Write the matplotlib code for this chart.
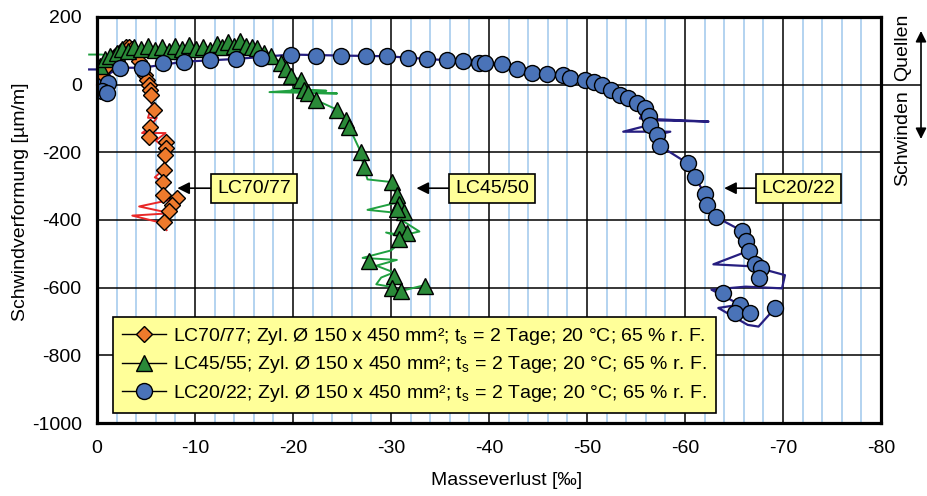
import matplotlib
matplotlib.use('Agg')
import matplotlib.pyplot as plt
from matplotlib.lines import Line2D
from matplotlib.ticker import MultipleLocator

plt.rcParams['font.family'] = ['Liberation Sans', 'DejaVu Sans']
plt.rcParams['axes.unicode_minus'] = False
plt.rcParams['mathtext.fontset'] = 'custom'
plt.rcParams['mathtext.rm'] = 'Liberation Sans'
plt.rcParams['mathtext.it'] = 'Liberation Sans:italic'

FS = 14

# LC70/77 - Messpunkte (Marker) und Rohdaten (Linie)
lc70_x = [0.0, -0.5, -1.0, -1.5, -2.0, -2.5, -3.0, -3.3, -3.6, -4.0, -4.3, -4.6,
          -4.9, -5.1, -5.3, -5.4, -5.5, -5.8, -5.4, -5.3, -7.0, -7.0, -6.9, -6.8,
          -6.7, -6.7, -8.2, -7.7, -7.35, -6.8]
lc70_y = [0, 30, 55, 75, 90, 100, 110, 112, 105, 90, 70, 50,
          30, 15, 0, -15, -30, -74, -125, -154, -169, -188, -208, -253,
          -288, -327, -336, -357, -372, -407]
lc70_raw_x = [0.0, -1.0, -2.0, -2.8, -3.4, -4.0, -4.6, -5.0, -5.3, -5.6, -5.2, -6.1,
              -5.4, -4.6, -7.0, -6.0, -7.0, -6.9, -6.8, -5.9, -6.7, -6.7, -8.2, -4.3,
              -7.5, -3.6, -6.8, -7.1]
lc70_raw_y = [0, 60, 95, 112, 108, 85, 50, 15, -20, -60, -98, -98,
              -125, -143, -143, -165, -190, -210, -250, -274, -285, -327, -336, -360,
              -380, -387, -410, -430]

# LC45/55
lc45_x = [-0.3, -0.8, -1.3, -2.0, -2.6, -3.2, -3.8, -4.5, -5.2, -5.9, -6.6, -7.3,
          -8.0, -8.7, -9.4, -10.1, -10.8, -11.5, -12.2, -12.8, -13.4, -14.0, -14.6,
          -15.2, -15.8, -16.3, -17.0, -17.8, -18.8, -19.3, -19.8, -20.8, -21.1, -21.5,
          -22.3, -24.5, -25.4, -25.7, -26.9, -27.2, -30.1, -30.6, -30.8, -31.3, -30.6,
          -31.0, -31.6, -30.8, -27.8, -30.3, -30.1, -31.0, -33.5]
lc45_y = [55, 75, 85, 95, 105, 100, 112, 104, 115, 102, 110, 100,
          114, 104, 118, 106, 112, 102, 120, 110, 126, 114, 130,
          115, 110, 109, 95, 85, 64, 45, 25, 15, -15, -25,
          -45, -74, -104, -124, -198, -243, -288, -325, -352, -377, -367,
          -422, -437, -456, -521, -565, -600, -610, -595]
lc45_raw_x = [0.8, -0.5, -1.3, -2.6, -4.5, -6.6, -8.7, -10.8, -12.8, -14.6, -16.3,
              -17.8, -18.8, -19.8, -20.8, -19.8, -23.4, -21.1, -17.6, -24.5, -21.5,
              -22.3, -24.5, -25.4, -25.7, -26.9, -27.2, -27.6, -30.1, -30.3, -30.6,
              -30.4, -27.6, -31.6, -30.8, -31.6, -32.9, -31.2, -29.5, -31.0, -30.8,
              -30.0, -27.1, -30.6, -28.5, -30.3, -29.0, -28.5, -30.1, -31.0, -33.5]
lc45_raw_y = [89, 89, 85, 100, 105, 108, 106, 110, 112, 118, 105,
              85, 64, 25, 15, -18, -18, -15, -22, -26, -25,
              -45, -74, -104, -124, -198, -243, -280, -288, -310, -327,
              -350, -370, -382, -395, -410, -434, -445, -437, -450, -470,
              -490, -512, -518, -535, -555, -570, -590, -598, -610, -592]

# LC20/22
lc20_x = [0.3, -1.1, -0.5, -1.0, -2.3, -4.6, -6.7, -8.9, -11.5, -14.2, -16.7,
          -19.8, -22.3, -24.9, -27.4, -29.6, -31.7, -33.7, -35.7, -37.3, -39.0,
          -39.6, -41.3, -42.9, -44.4, -45.9, -47.6, -48.3, -49.8, -50.7, -51.5,
          -52.4, -53.4, -54.2, -55.1, -55.9, -56.3, -56.4, -57.1, -57.5, -60.3,
          -61.0, -62.0, -62.2, -63.2, -65.8, -66.2, -66.5, -67.1, -67.8, -67.6,
          -63.9, -65.6, -65.1, -66.6, -69.2]
lc20_y = [0, 5, -20, -25, 50, 50, 64, 68, 74, 76, 78,
          89, 86, 86, 84, 84, 79, 76, 74, 69, 64,
          64, 60, 45, 35, 33, 30, 20, 15, 7, 0,
          -15, -30, -40, -55, -69, -94, -119, -149, -182, -233,
          -273, -322, -357, -392, -432, -462, -491, -531, -541, -570,
          -615, -650, -675, -675, -660]
lc20_raw_x = [0.8, -0.6, -1.1, -2.3, -4.6, -8.9, -14.2, -19.8, -24.9, -29.6, -33.7,
              -37.3, -39.6, -42.9, -45.9, -48.3, -50.7, -52.4, -54.2, -55.9, -55.4,
              -62.4, -56.3, -56.4, -53.7, -58.5, -57.1, -57.5, -60.3, -61.0, -62.0,
              -62.2, -63.2, -65.8, -66.2, -66.5, -62.9, -66.9, -70.2, -69.9, -66.2,
              -62.7, -65.6, -63.4, -66.4, -67.5, -69.2]
lc20_raw_y = [45, 45, 30, 50, 50, 68, 76, 89, 86, 84, 76,
              69, 64, 45, 33, 20, 7, -15, -40, -69, -100,
              -109, -105, -119, -139, -139, -149, -182, -233, -273, -322,
              -357, -392, -432, -462, -491, -531, -537, -563, -602, -597,
              -606, -650, -660, -710, -715, -660]

legend_labels = [
    'LC70/77; Zyl. Ø 150 x 450 mm²; $\\mathregular{t_s}$ = 2 Tage; 20 °C; 65 % r. F.',
    'LC45/55; Zyl. Ø 150 x 450 mm²; $\\mathregular{t_s}$ = 2 Tage; 20 °C; 65 % r. F.',
    'LC20/22; Zyl. Ø 150 x 450 mm²; $\\mathregular{t_s}$ = 2 Tage; 20 °C; 65 % r. F.',
]
x_ticks = [0, -10, -20, -30, -40, -50, -60, -70, -80]
y_ticks = [-1000, -800, -600, -400, -200, 0, 200]

orange, red = '#EE7A2C', '#E82828'
green, green_line = '#2A8A38', '#20A040'
blue, navy = '#4A73B8', '#261E80'
yellow = '#FFFF99'

fig = plt.figure(figsize=(9.28, 4.96), dpi=100)
ax = fig.add_axes([97 / 928, 1 - 423 / 496, 784 / 928, 406 / 496])

# Rohdaten-Linien
ax.plot(lc70_raw_x, lc70_raw_y, color=red, lw=1.4, zorder=2, clip_on=False)
ax.plot(lc45_raw_x, lc45_raw_y, color=green_line, lw=1.4, zorder=2, clip_on=False)
ax.plot(lc20_raw_x, lc20_raw_y, color=navy, lw=1.6, zorder=2, clip_on=False)

# Messpunkte
ax.plot(lc70_x, lc70_y, ls='none', marker='D', ms=8, mfc=orange, mec='black',
        mew=1.0, zorder=3)
ax.plot(lc45_x, lc45_y, ls='none', marker='^', ms=11.5, mfc=green, mec='black',
        mew=1.0, zorder=4)
ax.plot(lc20_x, lc20_y, ls='none', marker='o', ms=11.5, mfc=blue, mec='black',
        mew=1.0, zorder=5)

ax.set_xlim(0, -80)
ax.set_ylim(-1000, 200)
ax.set_xticks(x_ticks)
ax.set_yticks(y_ticks)
ax.xaxis.set_minor_locator(MultipleLocator(2))
ax.set_axisbelow(True)
ax.grid(which='major', axis='both', color='black', lw=1.1)
ax.grid(which='minor', axis='x', color='#9FC8EC', lw=1.1)
ax.tick_params(which='both', length=0, labelsize=FS)
ax.tick_params(axis='y', pad=11)
ax.tick_params(axis='x', pad=12)
for sp in ax.spines.values():
    sp.set_linewidth(2.3)
    sp.set_zorder(6)

ax.set_xlabel('Masseverlust [‰]', fontsize=FS)
ax.set_ylabel('Schwindverformung [µm/m]', fontsize=FS)
ax.xaxis.set_label_coords(0.522, -0.12)
ax.yaxis.set_label_coords(-0.087, 0.544)

# Beschriftung der Kurven
box = dict(boxstyle='square,pad=0.3', fc=yellow, ec='black', lw=1.2)
arrow = dict(arrowstyle='-|>', color='black', lw=1.2, mutation_scale=18,
             shrinkA=0, shrinkB=0)
for txt, tip, pos in [('LC70/77', -8.2, -16.0), ('LC45/50', -32.6, -40.3),
                      ('LC20/22', -64.0, -71.6)]:
    ax.annotate(txt, xy=(tip, -306), xytext=(pos, -306), ha='center', va='center',
                fontsize=FS, bbox=box, arrowprops=arrow, zorder=7)

# Quellen / Schwinden rechts neben dem Diagramm
ax.plot([1, 1.0497], [0, 0], color='black', lw=1.1, clip_on=False,
        transform=ax.get_yaxis_transform())
ax.annotate('', xy=(921 / 928, 1 - 31 / 496), xytext=(921 / 928, 1 - 139 / 496),
            xycoords='figure fraction', textcoords='figure fraction',
            arrowprops=dict(arrowstyle='<|-|>', color='black', lw=1.2,
                            mutation_scale=16, shrinkA=0, shrinkB=0))
fig.text(903 / 928, 1 - 47 / 496, 'Quellen', rotation=90, ha='center', va='center',
         fontsize=FS)
fig.text(903 / 928, 1 - 138 / 496, 'Schwinden', rotation=90, ha='center',
         va='center', fontsize=FS)

handles = [
    Line2D([], [], color='black', lw=1.0, marker='D', ms=8, mfc=orange, mec='black'),
    Line2D([], [], color='black', lw=1.0, marker='^', ms=11.5, mfc=green, mec='black'),
    Line2D([], [], color='black', lw=1.0, marker='o', ms=11.5, mfc=blue, mec='black'),
]
leg = ax.legend(handles, legend_labels, loc='lower left',
                bbox_to_anchor=(16 / 784, 10 / 406), borderaxespad=0,
                fontsize=FS, frameon=True, fancybox=False, framealpha=1,
                facecolor=yellow, edgecolor='black', handlelength=2.3,
                labelspacing=0.4, borderpad=0.45, handletextpad=0.35)
leg.get_frame().set_linewidth(1.2)
leg.set_zorder(8)

fig.savefig('out.png', dpi=100)
